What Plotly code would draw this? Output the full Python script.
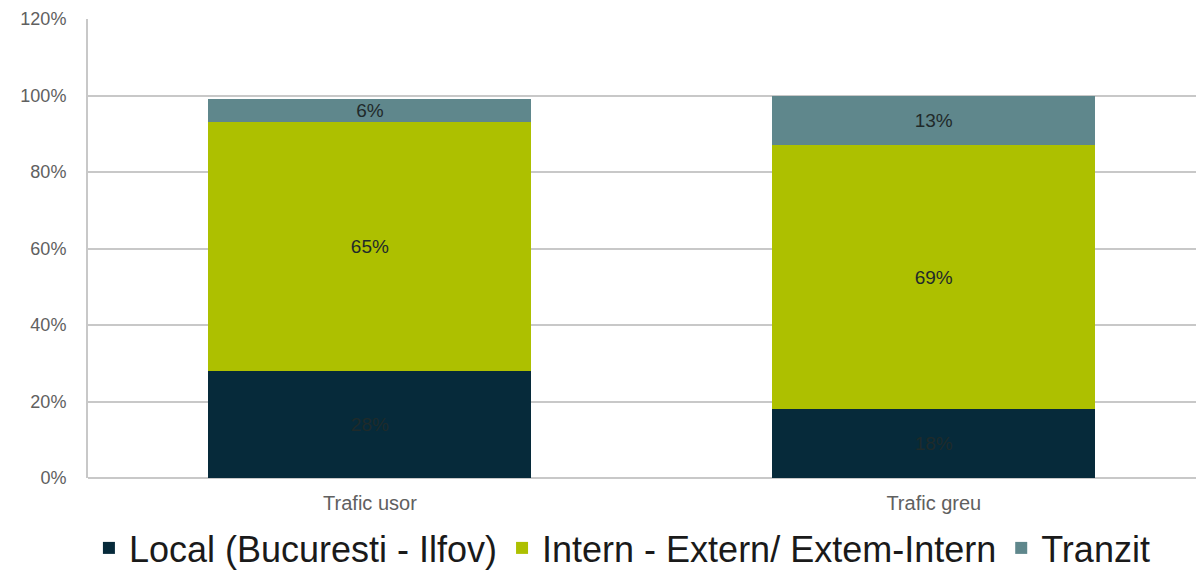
import plotly.graph_objects as go

categories = ["Trafic usor", "Trafic greu"]
local_vals = [28, 18]
intern_vals = [65, 69]
tranzit_vals = [6, 13]

series = [
    ("Local (Bucuresti - Ilfov)", local_vals, "#062a3a"),
    ("Intern - Extern/ Extem-Intern", intern_vals, "#adc000"),
    ("Tranzit", tranzit_vals, "#5f878c"),
]

FONT = "Liberation Sans, Arial, sans-serif"

fig = go.Figure()
for name, vals, color in series:
    fig.add_trace(go.Bar(
        name=name,
        x=categories,
        y=vals,
        marker=dict(color=color, line=dict(width=0)),
        width=0.573,
        text=[f"{v}%" for v in vals],
        textposition="inside",
        insidetextanchor="middle",
        textangle=0,
        textfont=dict(family=FONT, size=19, color="#1f2a2a"),
        constraintext="none",
    ))

fig.update_layout(
    barmode="stack",
    width=1196,
    height=578,
    margin=dict(l=88, r=0, t=19, b=100, autoexpand=False),
    paper_bgcolor="white",
    plot_bgcolor="white",
    font=dict(family=FONT, color="#595959"),
    showlegend=True,
    legend=dict(
        orientation="h",
        yref="container",
        xref="container",
        x=0.52, xanchor="center",
        y=-0.022, yanchor="bottom",
        font=dict(family=FONT, size=36, color="#1a1a1a"),
        itemwidth=30,
        traceorder="normal",
    ),
)

fig.update_xaxes(
    range=[-0.5, 1.465],
    showgrid=False,
    showline=False,
    ticks="",
    ticklabelstandoff=11,
    tickfont=dict(family=FONT, size=20, color="#606060"),
)
fig.update_yaxes(
    range=[0, 120],
    tickvals=[0, 20, 40, 60, 80, 100, 120],
    ticktext=["0%", "20%", "40%", "60%", "80%", "100%", "120%"],
    showgrid=True,
    gridcolor="#c8c8c8",
    gridwidth=2,
    showline=True,
    linecolor="#c8c8c8",
    linewidth=2,
    zeroline=True,
    zerolinecolor="#c8c8c8",
    zerolinewidth=2,
    ticks="",
    ticklabelstandoff=16,
    tickfont=dict(family=FONT, size=18, color="#606060"),
)

fig.write_html("out.html")
